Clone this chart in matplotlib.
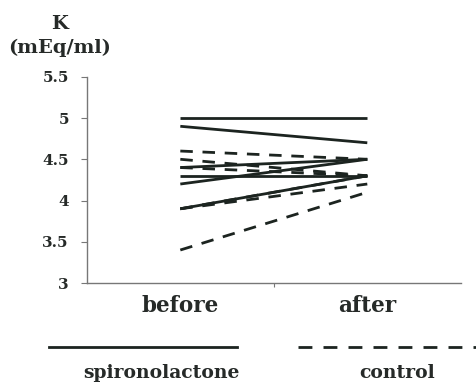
import matplotlib
matplotlib.use("Agg")
import matplotlib.pyplot as plt
from matplotlib.lines import Line2D

categories = ["before", "after"]
spironolactone = [
    [5.0, 5.0],
    [4.9, 4.7],
    [4.4, 4.5],
    [4.3, 4.3],
    [4.2, 4.5],
    [3.9, 4.3],
]
control = [
    [4.6, 4.5],
    [4.5, 4.3],
    [4.4, 4.3],
    [3.9, 4.3],
    [3.9, 4.2],
    [3.4, 4.1],
]
yticks = [3, 3.5, 4, 4.5, 5, 5.5]
ytick_labels = ["3", "3.5", "4", "4.5", "5", "5.5"]

plt.rcParams['font.family'] = ['DejaVu Serif']
plt.rcParams['font.weight'] = 'bold'

TXT = '#262a28'
LINE = '#1c2420'

fig = plt.figure(figsize=(4.77, 3.84), dpi=100)
ax = fig.add_axes([0.182, 0.263, 0.784, 0.537])

x = list(range(len(categories)))
for s in spironolactone:
    ax.plot(x, s, color=LINE, lw=2.0, solid_capstyle='butt')
for c in control:
    ax.plot(x, c, color=LINE, lw=2.0, linestyle=(0, (4.5, 3.5)))

ax.set_xlim(-0.5, 1.5)
ax.set_ylim(3, 5.5)
ax.set_yticks(yticks)
ax.set_yticklabels(ytick_labels, fontsize=11, fontweight='bold', color=TXT)
ax.set_xticks([0.5])
ax.set_xticklabels([])
ax.tick_params(axis='y', length=4, width=0.8, color='#777777', pad=9)
ax.tick_params(axis='x', length=3, width=0.8, color='#777777', direction='out')
for sp in ['top', 'right']:
    ax.spines[sp].set_visible(False)
for sp in ['left', 'bottom']:
    ax.spines[sp].set_color('#777777')
    ax.spines[sp].set_linewidth(1.0)

# category labels
for xi, cat in zip(x, categories):
    ax.text(xi, -0.06, cat, transform=ax.get_xaxis_transform(), ha='center', va='top',
            fontsize=15.5, fontweight='bold', color=TXT)

# y-axis title
fig.text(60/477, 1 - 24/384, "K", ha='center', va='center', fontsize=14, fontweight='bold', color=TXT)
fig.text(60/477, 1 - 48/384, "(mEq/ml)", ha='center', va='center', fontsize=14, fontweight='bold', color=TXT)

# legend-like keys below
fig.add_artist(Line2D([49/477, 237/477], [1 - 347/384, 1 - 347/384], transform=fig.transFigure,
                      color=LINE, lw=2.0))
fig.add_artist(Line2D([298/477, 477/477], [1 - 347/384, 1 - 347/384], transform=fig.transFigure,
                      color=LINE, lw=2.0, linestyle=(0, (5, 4))))
fig.text(161/477, 1 - 373/384, "spironolactone", ha='center', va='center', fontsize=13.5,
         fontweight='bold', color=TXT)
fig.text(397/477, 1 - 373/384, "control", ha='center', va='center', fontsize=13.5,
         fontweight='bold', color=TXT)

fig.savefig("out.png", dpi=100)
